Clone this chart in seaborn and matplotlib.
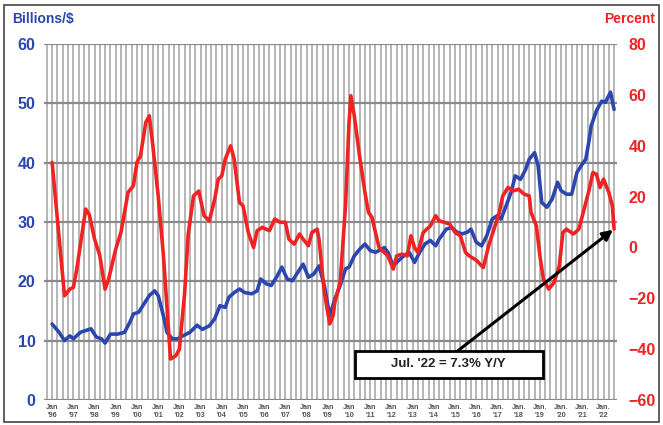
import pandas as pd
import matplotlib.pyplot as plt
import matplotlib.dates as mdates
from matplotlib.patches import Rectangle
import seaborn as sns

# left axis: billions of dollars (blue)
blue_dates = ["1996-01", "1996-05", "1996-08", "1996-11", "1997-01", "1997-05", "1997-08", "1997-11",
              "1998-02", "1998-05", "1998-07", "1998-10", "1999-02", "1999-06", "1999-09", "1999-11",
              "2000-02", "2000-05", "2000-08", "2000-11", "2001-01", "2001-04", "2001-06", "2001-09",
              "2001-12", "2002-03", "2002-07", "2002-09", "2002-11", "2003-02", "2003-06", "2003-09",
              "2003-12", "2004-03", "2004-05", "2004-08", "2004-11", "2005-02", "2005-06", "2005-09",
              "2005-11", "2006-02", "2006-05", "2006-08", "2006-11", "2007-02", "2007-05", "2007-08",
              "2007-11", "2008-02", "2008-05", "2008-08", "2008-11", "2009-02", "2009-05", "2009-08",
              "2009-11", "2010-01", "2010-04", "2010-07", "2010-10", "2011-01", "2011-04", "2011-06",
              "2011-09", "2011-11", "2012-02", "2012-05", "2012-08", "2012-11", "2013-02", "2013-05",
              "2013-08", "2013-11", "2014-02", "2014-04", "2014-08", "2014-11", "2015-02", "2015-05",
              "2015-08", "2015-10", "2016-01", "2016-04", "2016-07", "2016-10", "2017-01", "2017-03",
              "2017-06", "2017-09", "2017-11", "2018-02", "2018-05", "2018-07", "2018-10", "2018-12",
              "2019-02", "2019-05", "2019-08", "2019-11", "2020-01", "2020-04", "2020-07", "2020-10",
              "2021-01", "2021-03", "2021-05", "2021-06", "2021-09", "2021-12", "2022-02", "2022-05",
              "2022-07"]
billions = [12.8, 11.4, 10.0, 10.8, 10.3, 11.4, 11.7, 12.0,
            10.6, 10.3, 9.6, 11.1, 11.1, 11.4, 13.1, 14.5,
            14.8, 16.2, 17.6, 18.4, 17.6, 14.2, 11.4, 10.3,
            10.3, 10.8, 11.4, 12.0, 12.6, 11.9, 12.5, 13.7,
            15.9, 15.6, 17.3, 18.1, 18.7, 18.1, 17.9, 18.4,
            20.4, 19.6, 19.3, 20.7, 22.4, 20.4, 20.1, 21.5,
            22.9, 20.7, 21.2, 22.6, 19.3, 14.2, 17.0, 19.3,
            22.1, 22.4, 24.3, 25.4, 26.3, 25.2, 24.9, 25.2,
            25.7, 24.9, 22.6, 23.5, 24.3, 24.9, 23.2, 24.9,
            26.3, 26.9, 26.0, 27.1, 28.8, 29.1, 28.3, 28.0,
            28.3, 28.8, 26.6, 26.0, 27.7, 30.5, 31.1, 30.5,
            32.8, 35.3, 37.8, 37.2, 38.9, 40.6, 41.7, 39.5,
            33.3, 32.5, 33.9, 36.7, 35.3, 34.7, 34.7, 38.4,
            39.8, 40.6, 44.0, 46.2, 48.8, 50.4, 50.2, 51.9,
            49.0]

# right axis: percent change year over year (red)
red_dates = ["1996-01", "1996-08", "1996-11", "1997-01", "1997-03", "1997-08", "1997-10", "1998-01",
             "1998-04", "1998-07", "1998-09", "1999-01", "1999-04", "1999-08", "1999-11", "2000-01",
             "2000-03", "2000-06", "2000-08", "2000-10", "2001-01", "2001-04", "2001-08", "2001-11",
             "2002-01", "2002-04", "2002-06", "2002-09", "2002-12", "2003-03", "2003-06", "2003-09",
             "2003-11", "2004-01", "2004-03", "2004-06", "2004-08", "2004-11", "2005-01", "2005-04",
             "2005-07", "2005-09", "2005-12", "2006-04", "2006-07", "2006-10", "2007-01", "2007-03",
             "2007-06", "2007-09", "2007-11", "2008-02", "2008-04", "2008-07", "2008-08", "2008-11",
             "2009-02", "2009-04", "2009-05", "2009-08", "2009-11", "2010-01", "2010-02", "2010-04",
             "2010-07", "2010-10", "2010-12", "2011-02", "2011-04", "2011-06", "2011-09", "2011-11",
             "2012-02", "2012-04", "2012-07", "2012-10", "2012-12", "2013-02", "2013-04", "2013-07",
             "2013-11", "2014-02", "2014-04", "2014-07", "2014-10", "2015-01", "2015-04", "2015-07",
             "2015-09", "2016-01", "2016-05", "2016-08", "2016-11", "2017-02", "2017-04", "2017-07",
             "2017-10", "2018-01", "2018-04", "2018-07", "2018-08", "2018-11", "2019-01", "2019-03",
             "2019-06", "2019-09", "2019-12", "2020-02", "2020-04", "2020-08", "2020-11", "2021-02",
             "2021-05", "2021-07", "2021-09", "2021-11", "2022-01", "2022-04", "2022-06", "2022-07"]
percent = [33.5, -19.0, -16.4, -15.7, -8.5, 15.1, 13.0, 3.3,
           -3.2, -16.4, -12.4, -0.6, 6.0, 21.7, 24.3, 33.5,
           36.0, 49.2, 51.8, 40.0, 20.3, -3.2, -43.9, -42.6,
           -40.0, -18.0, 5.0, 20.3, 22.2, 12.5, 10.5, 19.0,
           26.9, 28.2, 34.8, 40.0, 34.8, 17.7, 16.4, 5.9,
           0.0, 6.6, 7.9, 6.6, 11.2, 9.9, 9.9, 3.3,
           1.3, 5.3, 3.3, 0.7, 5.9, 7.2, 3.3, -17.7,
           -30.1, -26.9, -21.6, -13.8, 16.4, 49.2, 59.7, 51.8,
           36.0, 21.7, 13.8, 11.8, 5.9, 0.0, -2.0, -3.3,
           -8.5, -3.3, -2.6, -3.3, 4.6, 0.0, -2.0, 5.9,
           8.5, 12.5, 10.5, 9.9, 9.2, 5.9, 4.6, -2.0,
           -3.3, -5.0, -7.9, 0.7, 7.2, 13.8, 20.3, 23.6,
           22.3, 22.9, 21.0, 20.3, 13.8, 8.5, -3.3, -12.4,
           -16.4, -13.8, -7.2, 5.9, 7.2, 5.3, 7.2, 15.1,
           23.0, 29.5, 28.8, 23.6, 26.9, 21.7, 16.4, 7.3]

years = list(range(1996, 2023))
tick_labels = [("Jan." if y >= 2015 else "Jan") + "\n'" + str(y)[2:] for y in years]
note = "Jul. '22 = 7.3% Y/Y"

BLUE = "#2c46b0"
RED = "#f02222"

blue_df = pd.DataFrame({"date": pd.to_datetime(blue_dates), "value": billions})
red_df = pd.DataFrame({"date": pd.to_datetime(red_dates), "value": percent})

sns.set_style("white")
plt.rcParams["font.family"] = ["Liberation Sans", "DejaVu Sans"]

fig = plt.figure(figsize=(6.63, 4.25), dpi=100)
fig.patches.append(Rectangle((0.006, 0.008), 0.988, 0.98, transform=fig.transFigure,
                             fill=False, edgecolor="#444444", linewidth=1.2))

ax = fig.add_axes([0.066, 0.059, 0.865, 0.837])
sns.lineplot(data=blue_df, x="date", y="value", ax=ax, color=BLUE, linewidth=2.6)
ax.set_ylim(0, 60)
ax.set_xlim(pd.Timestamp("1995-08-10"), pd.Timestamp("2022-08-25"))
ax.set_yticks(range(0, 61, 10))
ax.set_xticks(pd.to_datetime([f"{y}-01-01" for y in years]))
ax.set_xticklabels(tick_labels)
ax.xaxis.set_minor_locator(mdates.MonthLocator(bymonth=[1, 4, 7, 10]))
ax.grid(axis="x", which="both", color="#a9a9a9", linewidth=1.2)
ax.grid(axis="y", which="major", color="#8a8a8a", linewidth=1.6)
ax.set_axisbelow(True)
ax.tick_params(axis="x", which="both", length=0, labelsize=5.2, labelcolor="#555555", pad=3)
ax.tick_params(axis="y", length=0, labelsize=11.5, labelcolor=BLUE, pad=6)
for lab in ax.get_xticklabels():
    lab.set_fontweight("bold")
for lab in ax.get_yticklabels():
    lab.set_fontweight("bold")
ax.set_xlabel("")
ax.set_ylabel("")
sns.despine(ax=ax, left=True, bottom=True)

ax2 = ax.twinx()
sns.lineplot(data=red_df, x="date", y="value", ax=ax2, color=RED, linewidth=2.6)
ax2.set_ylim(-60, 80)
ax2.set_yticks(range(-60, 81, 20))
ax2.tick_params(axis="y", length=0, labelsize=11.5, labelcolor=RED, pad=8)
for lab in ax2.get_yticklabels():
    lab.set_fontweight("bold")
ax2.set_ylabel("")
ax2.grid(False)
for s in ax2.spines.values():
    s.set_visible(False)

fig.text(0.018, 0.955, "Billions/$", color=BLUE, fontsize=10, fontweight="bold", va="center")
fig.text(0.988, 0.955, "Percent", color=RED, fontsize=10, fontweight="bold", va="center", ha="right")

# callout box, arrow to the last red point
ax2.add_patch(Rectangle((0.542, 0.062), 0.328, 0.076, transform=ax2.transAxes,
                        facecolor="white", edgecolor="black", linewidth=2.0, zorder=5))
ax2.text(0.706, 0.100, note, transform=ax2.transAxes, ha="center", va="center",
         fontsize=9.5, fontweight="bold", color="#222222", zorder=6)
ax2.annotate("", xy=(red_df["date"].iloc[-1], percent[-1]),
             xytext=(0.722, 0.138), textcoords="axes fraction",
             arrowprops=dict(arrowstyle="-|>,head_length=0.6,head_width=0.3", color="black",
                             lw=2.2, shrinkA=0, shrinkB=1), zorder=6)

fig.savefig("out.png", dpi=100)
